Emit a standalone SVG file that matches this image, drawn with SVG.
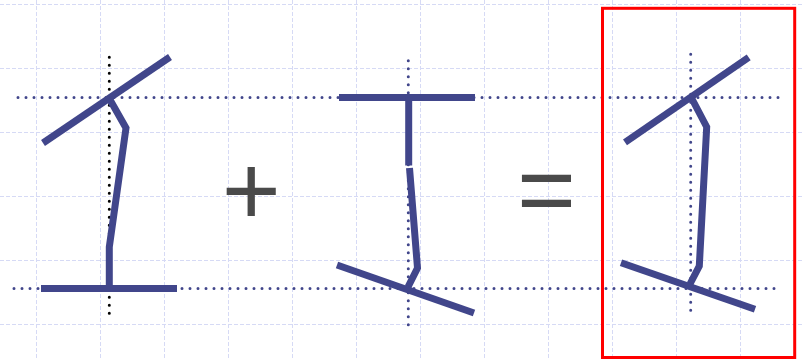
<svg xmlns="http://www.w3.org/2000/svg" width="803" height="359" viewBox="0 0 803 359">
  <style>
    .grid line { stroke: #d6daf5; stroke-width: 1; stroke-dasharray: 4 2; }
    .dots { fill: none; stroke: #41468b; stroke-width: 3; stroke-linecap: round; stroke-dasharray: 0 8; }
    .bdots { fill: none; stroke: #000000; stroke-width: 3; stroke-linecap: round; stroke-dasharray: 0 8; }
    .bar { fill: none; stroke: #41468b; stroke-width: 7; stroke-linecap: butt; stroke-linejoin: miter; }
    .op { font-family: "Liberation Sans", Arial, sans-serif; font-size: 101px; fill: #4a4a4a; text-anchor: middle; }
    .frame { fill: none; stroke: #ff0000; stroke-width: 3; }
  </style>
  <rect width="803" height="359" fill="#ffffff"/>
  <g id="grid" class="grid">
    <line x1="36.5" y1="0" x2="36.5" y2="359"/>
    <line x1="100.5" y1="0" x2="100.5" y2="359"/>
    <line x1="164.5" y1="0" x2="164.5" y2="359"/>
    <line x1="228.5" y1="0" x2="228.5" y2="359"/>
    <line x1="292.5" y1="0" x2="292.5" y2="359"/>
    <line x1="356.5" y1="0" x2="356.5" y2="359"/>
    <line x1="420.5" y1="0" x2="420.5" y2="359"/>
    <line x1="484.5" y1="0" x2="484.5" y2="359"/>
    <line x1="548.5" y1="0" x2="548.5" y2="359"/>
    <line x1="612.5" y1="0" x2="612.5" y2="359"/>
    <line x1="676.5" y1="0" x2="676.5" y2="359"/>
    <line x1="740.5" y1="0" x2="740.5" y2="359"/>
    <line x1="0" y1="4.5" x2="803" y2="4.5"/>
    <line x1="0" y1="68.5" x2="803" y2="68.5"/>
    <line x1="0" y1="132.5" x2="803" y2="132.5"/>
    <line x1="0" y1="196.5" x2="803" y2="196.5"/>
    <line x1="0" y1="260.5" x2="803" y2="260.5"/>
    <line x1="0" y1="324.5" x2="803" y2="324.5"/>
  </g>
  <g id="guides">
    <line class="dots" x1="18" y1="97.5" x2="780" y2="97.5"/>
    <line class="dots" x1="14" y1="288.5" x2="778" y2="288.5"/>
    <line class="bdots" x1="109.3" y1="57.3" x2="109.3" y2="314"/>
    <line class="dots" x1="408.3" y1="60.7" x2="408.3" y2="325"/>
    <line class="dots" x1="690.7" y1="54.3" x2="690.7" y2="311"/>
  </g>
  <g id="figure-left">
    <path class="bar" d="M43,143 L170,57"/>
    <path class="bar" d="M109,98 L126,128 L109.3,247 L109.3,288"/>
    <path class="bar" d="M41,288.5 L177,288.5"/>
  </g>
  <g id="plus">
    <text class="op" x="251.2" y="225">+</text>
  </g>
  <g id="figure-middle">
    <path class="bar" d="M339,97.5 L475,97.5" stroke-linecap="round"/>
    <path class="bar" d="M408.7,97.5 L408.7,165.5"/>
    <path class="bar" d="M409.5,168 L417.5,268 L408,287"/>
    <path class="bar" d="M337,265 L474,313"/>
  </g>
  <g id="equals">
    <text class="op" x="546.5" y="224">=</text>
  </g>
  <g id="figure-right">
    <rect class="frame" x="602.5" y="8.3" width="192.2" height="349.2"/>
    <path class="bar" d="M625,142.3 L748.7,57.3"/>
    <path class="bar" d="M691,97 L706.7,127 L699.3,266 L690,284"/>
    <path class="bar" d="M621,262.7 L755,309.3"/>
  </g>
</svg>
